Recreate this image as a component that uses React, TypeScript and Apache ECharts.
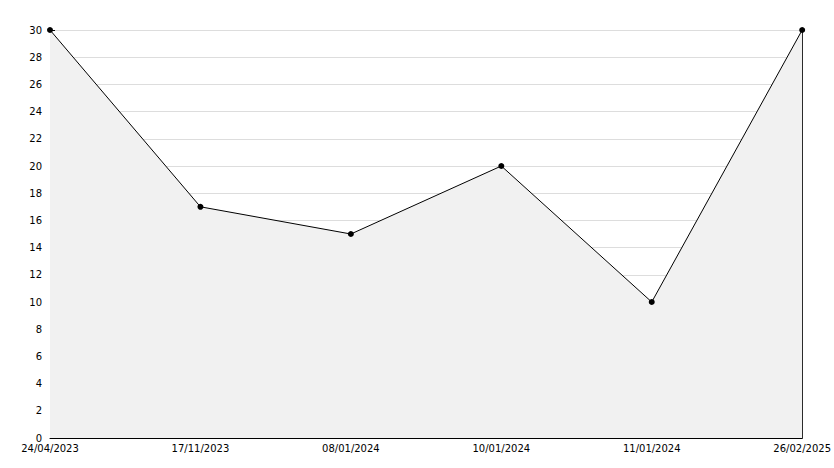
import React, { useEffect, useRef } from "react";
import * as echarts from "echarts";

const categories = ["24/04/2023", "17/11/2023", "08/01/2024", "10/01/2024", "11/01/2024", "26/02/2025"];
const values = [30, 17, 15, 20, 10, 30];

export default function App() {
  const ref = useRef<HTMLDivElement>(null);
  useEffect(() => {
    if (!ref.current) return;
    const chart = echarts.init(ref.current, undefined, { renderer: "svg" });
    const font = { fontFamily: "DejaVu Sans", fontSize: 10, color: "#000" };
    chart.setOption({
      animation: false,
      backgroundColor: "#fff",
      grid: { left: 50, right: 29, top: 30, bottom: 30, containLabel: false },
      xAxis: {
        type: "category",
        data: categories,
        boundaryGap: false,
        axisLine: { show: true, lineStyle: { color: "#000", width: 1 } },
        axisTick: { show: true, inside: true, length: 4, lineStyle: { color: "#000" } },
        axisLabel: { ...font, margin: 5, interval: 0 },
        splitLine: { show: false },
      },
      yAxis: [
        {
          type: "value",
          min: 0,
          max: 30,
          interval: 2,
          axisLine: { show: true, lineStyle: { color: "#000", width: 1 } },
          axisTick: { show: true, inside: true, length: 5, lineStyle: { color: "#000" } },
          minorTick: { show: true, splitNumber: 2, length: 3, lineStyle: { color: "#000" } },
          axisLabel: { ...font, margin: 8 },
          splitLine: { show: true, lineStyle: { color: "#dddddd", width: 1 } },
        },
        {
          type: "value",
          min: 0,
          max: 30,
          interval: 2,
          position: "right",
          axisLine: { show: true, lineStyle: { color: "#000", width: 1 } },
          axisTick: { show: false },
          axisLabel: { show: false },
          splitLine: { show: false },
        },
      ],
      series: [
        {
          type: "line",
          data: values,
          yAxisIndex: 0,
          symbol: "circle",
          symbolSize: 6,
          itemStyle: { color: "#000" },
          lineStyle: { color: "#000", width: 1 },
          areaStyle: { color: "#f1f1f1", opacity: 1 },
        },
      ],
    });
    return () => chart.dispose();
  }, []);
  return <div ref={ref} style={{ width: 834, height: 468, position: "absolute", left: 0, top: 0 }} />;
}
